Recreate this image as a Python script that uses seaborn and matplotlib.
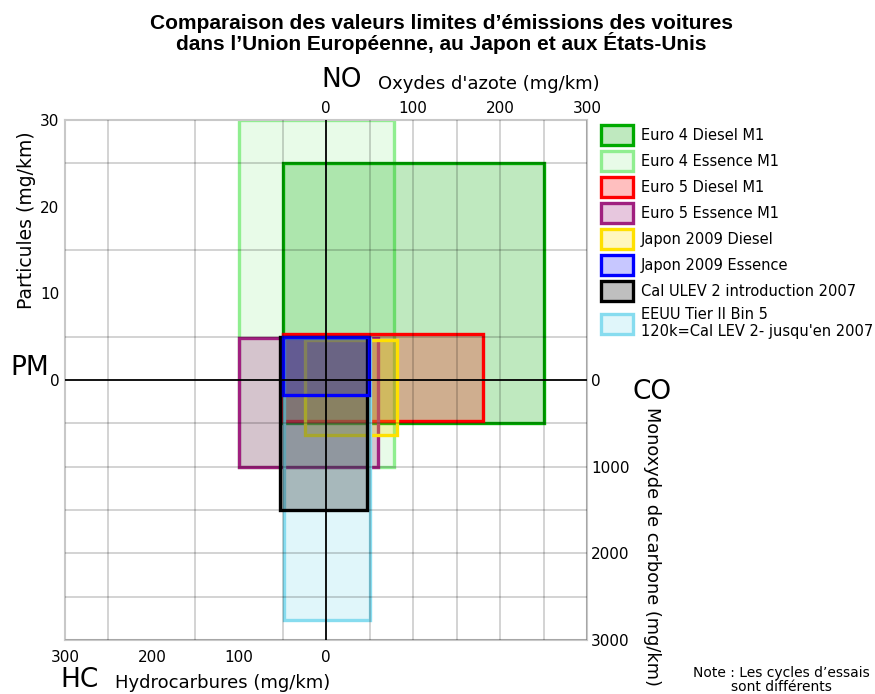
import numpy as np
import matplotlib
matplotlib.use("Agg")
import matplotlib.pyplot as plt
import seaborn as sns
from matplotlib.colors import to_rgba
from matplotlib.ticker import MultipleLocator

# Données : limites par norme (mg/km)
normes = ['Euro 4 Diesel M1', 'Euro 4 Essence M1', 'Euro 5 Diesel M1',
          'Euro 5 Essence M1', 'Japon 2009 Diesel', 'Japon 2009 Essence',
          'Cal ULEV 2 introduction 2007',
          "EEUU Tier II Bin 5\n120k=Cal LEV 2- jusqu'en 2007"]
hc = [50, 100, 50, 100, 24, 50, 53, 48]          # hydrocarbures
nox = [250, 78, 180, 60, 82, 49, 47, 51]         # oxydes d'azote
pm = [25, 30, 5.3, 4.9, 4.6, 5.0, 5.0, 4.8]      # particules
co = [500, 1000, 470, 1000, 630, 170, 1500, 2770]  # monoxyde de carbone

couleurs = ['#00aa00', '#90ee90', '#ff0000', '#a0207f',
            '#ffe000', '#0000ff', '#000000', '#87dcef']
alphas = [0.25, 0.2, 0.25, 0.25, 0.25, 0.22, 0.25, 0.25]
ordre = [2, 1, 3, 4, 5, 8, 7, 6]   # ordre d'empilement

sns.set_theme(style="white")
plt.rcParams['font.family'] = ['DejaVu Sans']
plt.rcParams['text.color'] = 'black'

W, H = 875, 694
fig = plt.figure(figsize=(W / 100, H / 100), dpi=100)
ax = fig.add_axes([65 / W, 1 - 640 / H, 522 / W, 520 / H])


def px(x, y):
    return x / W, 1 - y / H


# PM (x10) en haut, CO (/10) en bas ; HC à gauche, NO à droite
for i, nom in enumerate(normes):
    c = couleurs[i]
    ax.bar(-hc[i], pm[i] * 10 + co[i] / 10, width=hc[i] + nox[i],
           bottom=-co[i] / 10, align='edge',
           facecolor=to_rgba(c, alphas[i]), edgecolor=c,
           linewidth=2.4, label=nom, zorder=1 + ordre[i] * 0.1)

ax.set_xlim(-300, 300)
ax.set_ylim(-300, 300)

# grille
ax.xaxis.set_minor_locator(MultipleLocator(50))
ax.yaxis.set_minor_locator(MultipleLocator(50))
ax.grid(which='minor', color='black', alpha=0.2, linewidth=1.2)
ax.grid(which='major', visible=False)
ax.set_axisbelow(False)
ax.axhline(0, color='black', linewidth=1.3, zorder=3)
ax.axvline(0, color='black', linewidth=1.3, zorder=3)
for s in ax.spines.values():
    s.set_color('#c8c8c8')
    s.set_linewidth(1.5)
    s.set_visible(True)

# graduations
ax.set_xticks([-300, -200, -100, 0], labels=['300', '200', '100', '0'])
ax.set_yticks([0, 100, 200, 300], labels=['0', '10', '20', '30'])
ax.tick_params(which='both', length=0, labelsize=11, colors='black')
ax.tick_params(axis='x', pad=7)
ax.tick_params(axis='y', pad=4)

top = ax.secondary_xaxis('top')
top.set_ticks([0, 100, 200, 300], labels=['0', '100', '200', '300'])
top.tick_params(length=0, labelsize=11, pad=3, colors='black')
top.spines['top'].set_visible(False)

right = ax.secondary_yaxis('right')
right.set_ticks([0, -100, -200, -300], labels=['0', '1000', '2000', '3000'])
right.tick_params(length=0, labelsize=11, pad=3, colors='black')
right.spines['right'].set_visible(False)

# titres et étiquettes
fig.text(*px(441, 34), "Comparaison des valeurs limites d\u2019émissions des voitures\n"
         "dans l\u2019Union Européenne, au Japon et aux États-Unis",
         ha='center', va='center', fontsize=15, fontweight='bold',
         family='Liberation Sans', linespacing=0.95)

fig.text(*px(321, 80), 'NO', fontsize=19, ha='left', va='center')
fig.text(*px(378, 84), "Oxydes d'azote (mg/km)", fontsize=13, ha='left', va='center')
fig.text(*px(10, 368), 'PM', fontsize=19, ha='left', va='center')
fig.text(*px(27, 220), 'Particules (mg/km)', fontsize=13.5, rotation=90,
         ha='center', va='center')
fig.text(*px(633, 392), 'CO', fontsize=19, ha='left', va='center')
fig.text(*px(652, 407), 'Monoxyde de carbone (mg/km)', fontsize=12.8,
         rotation=-90, ha='center', va='top')
fig.text(*px(60, 680), 'HC', fontsize=19, ha='left', va='center')
fig.text(*px(115, 683), 'Hydrocarbures (mg/km)', fontsize=13, ha='left', va='center')
fig.text(*px(781, 680), "Note : Les cycles d\u2019essais\nsont différents",
         fontsize=10, ha='center', va='center', linespacing=0.95)

fig.legend(loc='upper left', bbox_to_anchor=px(595, 119), frameon=False,
           fontsize=10.5, handlelength=2.2, handleheight=1.75,
           labelspacing=0.4, handletextpad=0.55, borderaxespad=0)

fig.savefig('out.png', dpi=100)
